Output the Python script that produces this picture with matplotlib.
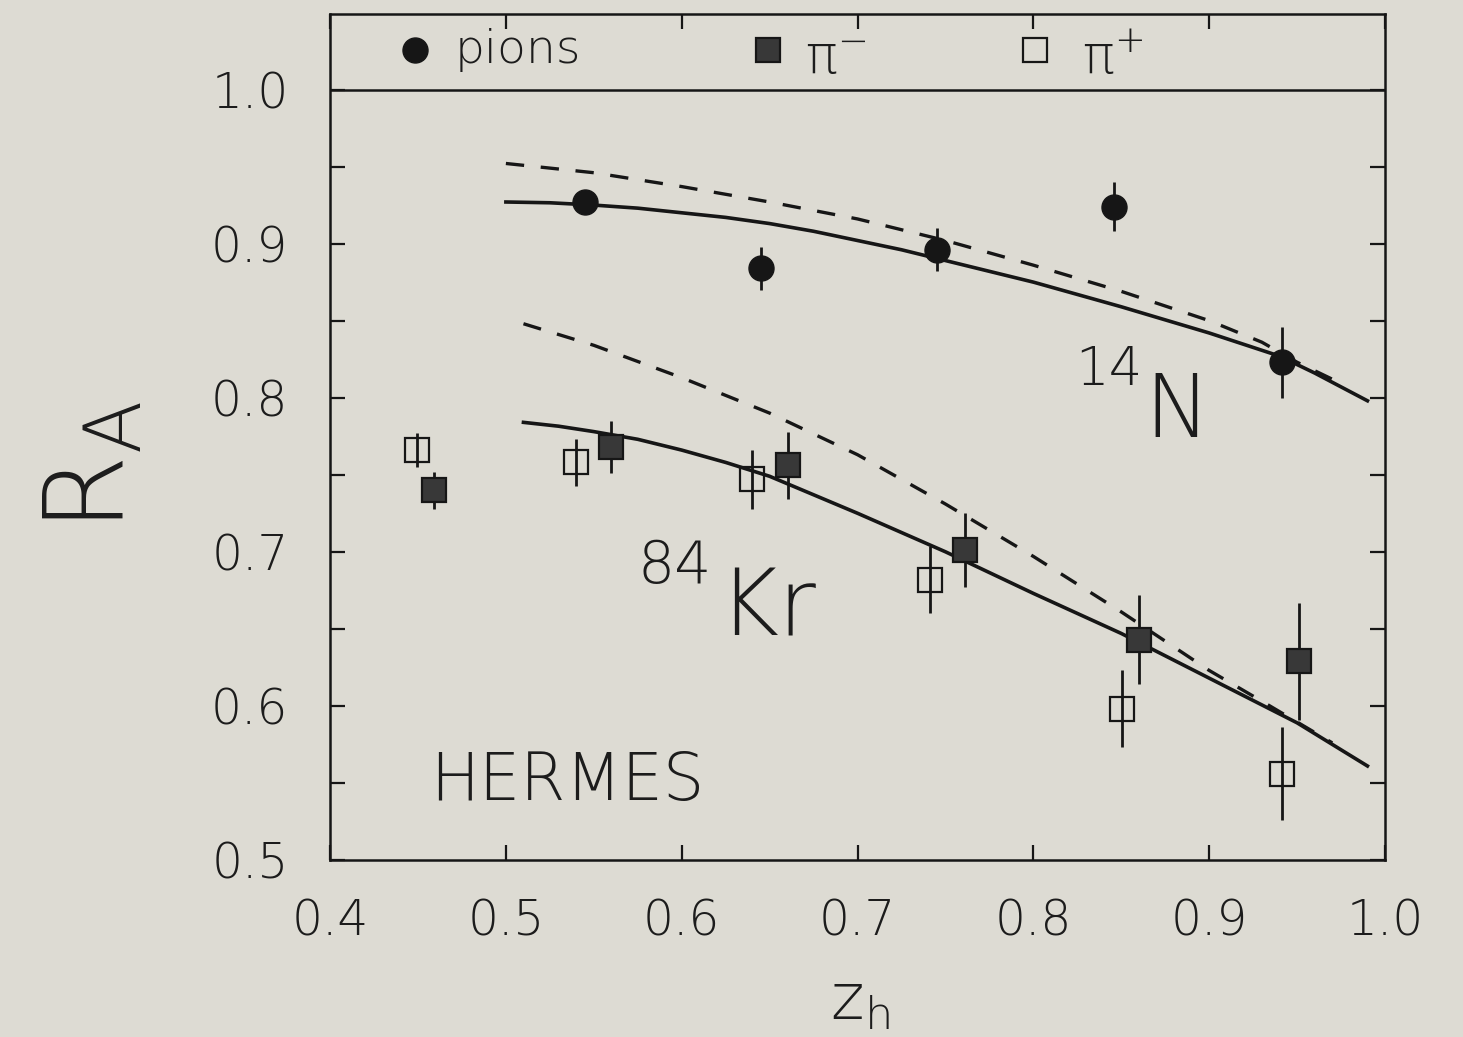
"""Nuclear attenuation ratio R_A versus z_h for HERMES pion data with model curves."""

import matplotlib

matplotlib.use("Agg")
import matplotlib.pyplot as plt
from matplotlib.ticker import MultipleLocator


BG = "#dddbd3"
INK = "#161616"
TEXT = "#1c1c1c"

# 14N, charged pions combined
pion_z = [0.545, 0.645, 0.745, 0.846, 0.9415]
pion_r = [0.927, 0.884, 0.896, 0.924, 0.823]
pion_err = [0.006, 0.014, 0.014, 0.016, 0.023]

# 84Kr, negative pions
pim_z = [0.459, 0.560, 0.6605, 0.761, 0.860, 0.951]
pim_r = [0.740, 0.768, 0.756, 0.701, 0.643, 0.629]
pim_err = [0.012, 0.017, 0.022, 0.024, 0.029, 0.038]

# 84Kr, positive pions
pip_z = [0.4495, 0.540, 0.640, 0.741, 0.8505, 0.9415]
pip_r = [0.766, 0.758, 0.747, 0.682, 0.598, 0.556]
pip_err = [0.011, 0.015, 0.019, 0.022, 0.025, 0.030]

# model curves
n_solid_z = [0.50, 0.525, 0.55, 0.575, 0.60, 0.625, 0.65, 0.675, 0.70, 0.725,
             0.75, 0.80, 0.85, 0.90, 0.94, 0.96, 0.99]
n_solid_r = [0.927, 0.9265, 0.925, 0.923, 0.920, 0.917, 0.913, 0.908, 0.902,
             0.896, 0.889, 0.875, 0.859, 0.842, 0.827, 0.816, 0.798]
n_dash_z = [0.50, 0.55, 0.60, 0.65, 0.70, 0.75, 0.80, 0.85, 0.90, 0.93, 0.95, 0.97]
n_dash_r = [0.952, 0.946, 0.937, 0.927, 0.916, 0.902, 0.886, 0.869, 0.850,
            0.836, 0.823, 0.812]
kr_solid_z = [0.51, 0.53, 0.55, 0.575, 0.60, 0.625, 0.65, 0.70, 0.75, 0.80,
              0.85, 0.90, 0.95, 0.99]
kr_solid_r = [0.784, 0.7815, 0.778, 0.773, 0.766, 0.758, 0.749, 0.725, 0.700,
              0.673, 0.647, 0.618, 0.589, 0.561]
kr_dash_z = [0.51, 0.55, 0.60, 0.65, 0.70, 0.75, 0.80, 0.85, 0.90, 0.93, 0.97]
kr_dash_r = [0.848, 0.834, 0.813, 0.790, 0.763, 0.731, 0.697, 0.661, 0.623,
             0.603, 0.576]


def main() -> None:
    plt.rcParams["font.family"] = ["DejaVu Sans"]
    plt.rcParams["font.weight"] = "light"
    plt.rcParams["mathtext.default"] = "regular"

    fig = plt.figure(figsize=(14.63, 10.37), dpi=100, facecolor=BG)
    ax = fig.add_axes([0.2256, 0.1707, 0.7211, 0.8158], facecolor=BG)

    ax.plot(n_solid_z, n_solid_r, color=INK, lw=2.6, solid_joinstyle="round")
    ax.plot(n_dash_z, n_dash_r, color=INK, lw=2.4, dashes=(5.5, 5.0))
    ax.plot(kr_solid_z, kr_solid_r, color=INK, lw=2.6, solid_joinstyle="round")
    ax.plot(kr_dash_z, kr_dash_r, color=INK, lw=2.4, dashes=(5.5, 5.0))

    err_style = dict(ecolor=INK, elinewidth=2.0, capsize=0, linestyle="none")
    ax.errorbar(pion_z, pion_r, yerr=pion_err, marker="o", ms=18,
                mfc=INK, mec=INK, zorder=4, **err_style)
    ax.errorbar(pim_z, pim_r, yerr=pim_err, marker="s", ms=17,
                mfc="#383838", mec=INK, mew=1.6, zorder=4, **err_style)
    ax.errorbar(pip_z, pip_r, yerr=pip_err, marker="s", ms=17,
                mfc="none", mec=INK, mew=1.6, zorder=4, **err_style)

    # legend band above R_A = 1
    ax.axhline(1.0, color=INK, lw=1.8)
    ax.plot([0.0806], [0.957], "o", ms=18, color=INK, transform=ax.transAxes)
    ax.text(0.1185, 0.957, "pions", transform=ax.transAxes, fontsize=34,
            color=TEXT, va="center", ha="left")
    ax.plot([0.415], [0.957], "s", ms=17, mfc="#383838", mec=INK, mew=1.6,
            transform=ax.transAxes)
    ax.text(0.450, 0.947, r"$\pi^{-}$", transform=ax.transAxes, fontsize=38,
            color=TEXT, va="center", ha="left")
    ax.plot([0.668], [0.957], "s", ms=17, mfc="none", mec=INK, mew=1.6,
            transform=ax.transAxes)
    ax.text(0.713, 0.947, r"$\pi^{+}$", transform=ax.transAxes, fontsize=38,
            color=TEXT, va="center", ha="left")

    ax.text(0.8238, 0.8084, "14", fontsize=38, color=TEXT, va="baseline")
    ax.text(0.863, 0.7747, "N", fontsize=63, color=TEXT, va="baseline")
    ax.text(0.575, 0.680, "84", fontsize=42, color=TEXT, va="baseline")
    ax.text(0.6207, 0.646, "Kr", fontsize=66, color=TEXT, va="baseline")
    ax.text(0.4569, 0.539, "HERMES", fontsize=47, color=TEXT, va="baseline")

    ax.set_xlim(0.4, 1.0)
    ax.set_ylim(0.5, 1.049)
    ax.yaxis.set_minor_locator(MultipleLocator(0.05))
    ax.set_xticks([0.4, 0.5, 0.6, 0.7, 0.8, 0.9, 1.0])
    ax.set_yticks([0.5, 0.6, 0.7, 0.8, 0.9, 1.0])
    ax.tick_params(which="both", direction="in", top=True, right=True,
                   length=11, width=1.6, color=INK)
    ax.tick_params(axis="x", which="major", labelsize=35,
                   labelcolor=TEXT, pad=27)
    ax.tick_params(axis="y", which="major", labelsize=35,
                   labelcolor=TEXT, pad=30)
    for spine in ax.spines.values():
        spine.set_linewidth(1.8)
        spine.set_color(INK)

    fig.text(0.063, 0.55, r"$R_A$", rotation=90, fontsize=80, color=TEXT,
             ha="center", va="center")
    fig.text(0.588, 0.0164, r"$z_h$", fontsize=46, color=TEXT,
             ha="center", va="baseline")

    fig.savefig("out.png", dpi=100, facecolor=BG)


if __name__ == "__main__":
    main()
